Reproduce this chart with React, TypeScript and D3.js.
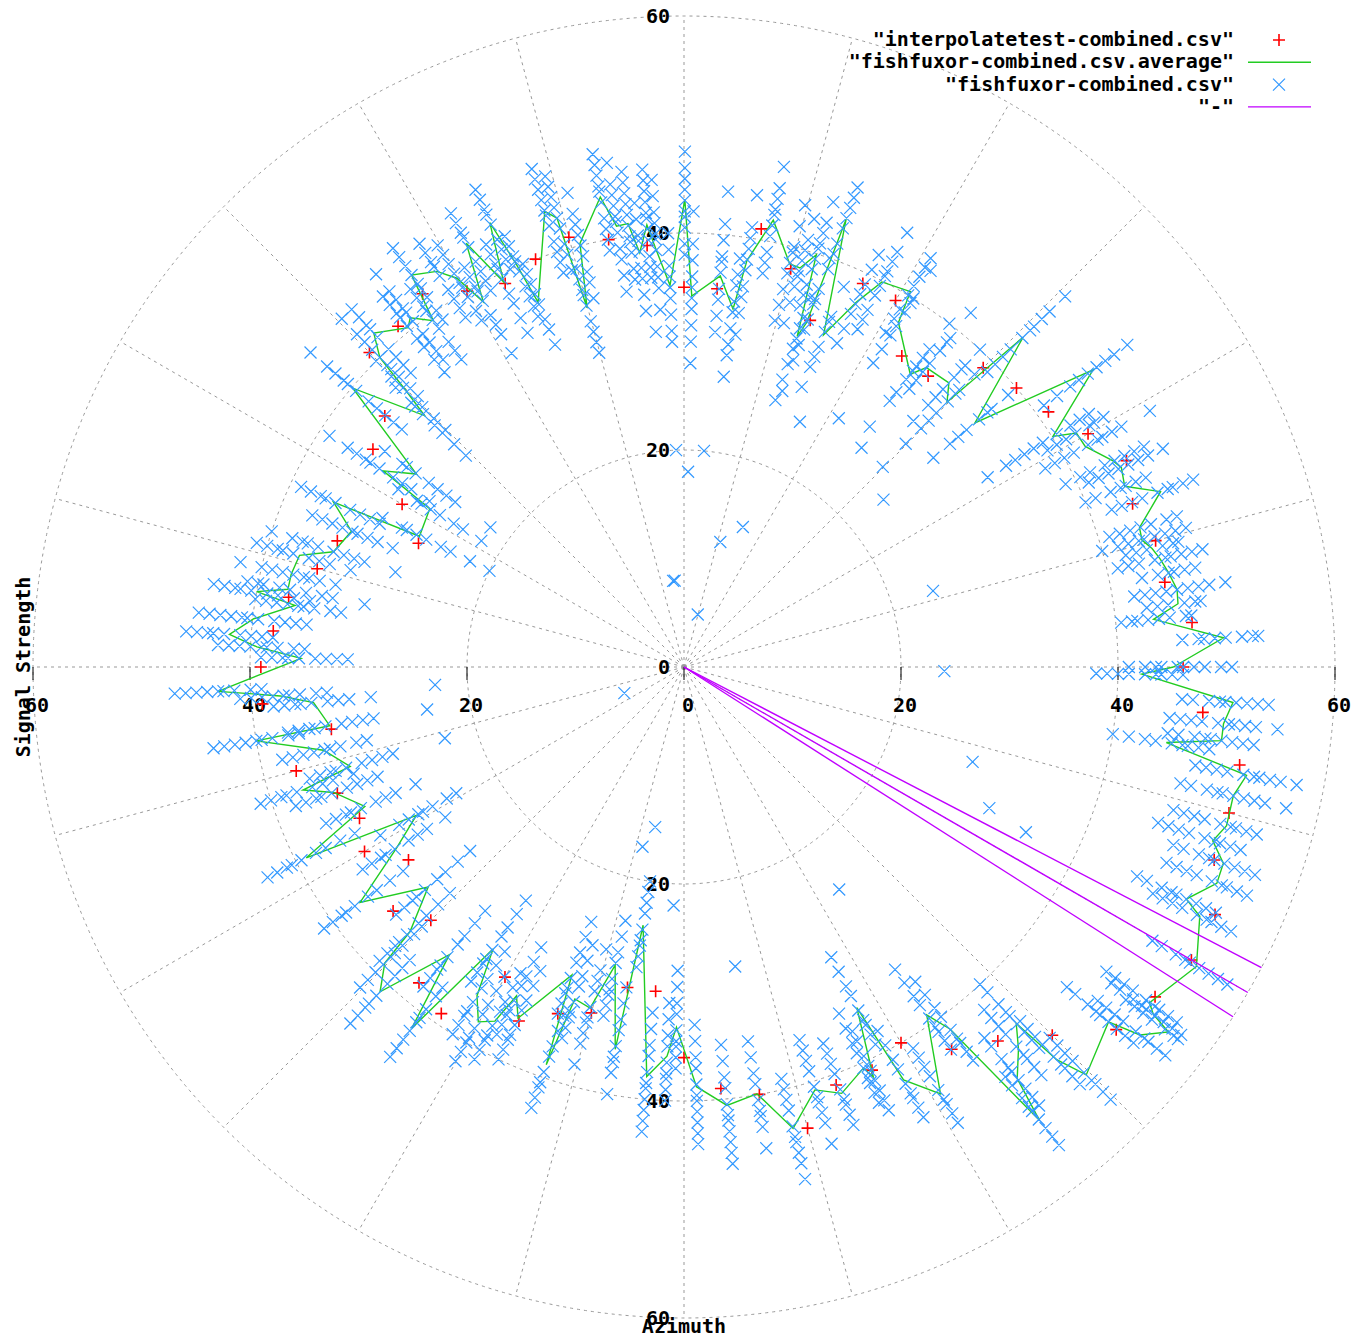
import React from 'react';
import * as d3 from 'd3';

const W = 1364;
const H = 1340;
const cx = 684;
const cy = 667;
const font = '"DejaVu Sans Mono", "Liberation Mono", monospace';

// interpolatetest-combined.csv (azimuth, strength)
const testAzimuth = [
  0, 5, 10, 15, 20, 25, 30, 35, 40, 45, 50, 55, 60, 65, 70, 75, 80, 85, 90, 95,
  100, 105, 110, 115, 120, 125, 130, 135, 140, 145, 150, 155, 160, 165, 170, 175, 180, 185, 190, 195,
  200, 205, 210, 215, 220, 225, 230, 235, 240, 245, 250, 255, 260, 265, 270, 275, 280, 285, 290, 295,
  300, 305, 310, 315, 320, 325, 330, 335, 340, 345, 350, 355,
];
const testStrength = [
  46, 47, 45, 45, 44, 45, 43, 41, 40, 39, 35, 35, 39, 39, 34, 38, 41, 35, 35, 39,
  40, 41, 40, 39, 40, 42, 41, 41, 36, 35, 30, 27, 34, 35, 37, 38, 39, 39, 33, 37,
  34, 33, 34, 31, 35, 33, 38, 39, 33, 36, 34, 33, 30, 30, 36, 39, 40, 44, 41, 41,
  40, 43, 45, 48, 52, 53, 54, 54, 52, 52, 52, 48,
];

// fishfuxor-combined.csv.average
const avgAzimuth = [
  0.0, 3.1, 5.8, 7.3, 8.9, 11.0, 12.8, 14.2, 15.5, 17.0, 20.2, 22.3, 24.5, 25.6, 28.8, 30.8, 32.0, 36.0, 40.0, 44.2,
  45.2, 47.0, 51.0, 52.3, 58.1, 58.9, 62.8, 64.7, 67.2, 70.1, 70.4, 71.1, 72.2, 73.8, 75.3, 78.7, 81.2, 82.2, 84.7, 88.8,
  89.9, 92.1, 93.8, 94.8, 96.1, 97.2, 98.7, 100.1, 103.8, 105.1, 105.8, 107.0, 111.8, 112.6, 113.6, 115.1, 117.2, 118.8, 120.3, 122.0,
  124.8, 125.9, 128.1, 129.1, 132.9, 134.5, 135.2, 135.9, 139.9, 144.2, 146.9, 148.1, 153.7, 154.8, 157.8, 161.8, 163.8, 166.7, 168.9, 170.0,
  171.0, 173.6, 175.9, 177.3, 178.7, 183.0, 184.1, 185.5, 189.4, 189.8, 193.0, 196.6, 197.9, 199.7, 203.6, 206.8, 209.0, 212.2, 216.0, 220.7,
  224.0, 224.7, 226.9, 230.8, 233.0, 235.9, 237.8, 239.9, 241.9, 243.0, 244.7, 250.0, 250.9, 251.8, 254.6, 257.0, 259.8, 261.0, 264.8, 267.5,
  268.8, 271.7, 275.6, 279.7, 283.3, 287.2, 290.3, 294.1, 294.8, 296.9, 298.0, 301.0, 304.9, 306.3, 308.1, 309.0, 311.2, 313.0, 313.5, 314.6,
  320.1, 321.1, 323.0, 323.5, 324.2, 329.7, 334.2, 335.2, 337.9, 340.0, 341.8, 343.7, 346.8, 349.1, 351.1, 352.2, 354.0, 356.3, 359.1,
];
const avgStrength = [
  45.1, 49.8, 43.5, 45.9, 46.0, 45.5, 45.0, 44.5, 43.8, 43.9, 46.8, 43.9, 44.3, 43.9, 42.2, 42.1, 40.1, 46.6, 35.0, 43.6,
  34.4, 35.8, 35.5, 34.1, 37.4, 40.4, 39.9, 37.2, 33.2, 43.9, 33.7, 32.2, 39.9, 38.3, 38.4, 42.0, 37.9, 33.3, 36.2, 34.2,
  43.1, 35.2, 38.5, 40.9, 38.4, 41.2, 41.1, 44.0, 40.2, 34.3, 43.0, 43.9, 36.2, 40.2, 44.7, 39.2, 43.9, 38.4, 41.5, 43.0,
  44.0, 39.4, 40.9, 40.3, 42.0, 40.0, 36.0, 33.3, 39.9, 30.4, 33.1, 27.6, 27.2, 35.7, 33.1, 34.0, 36.9, 37.2, 37.2, 40.0,
  36.3, 39.9, 42.0, 39.4, 35.3, 43.0, 37.3, 34.3, 33.1, 40.0, 34.1, 32.1, 36.9, 34.3, 32.1, 39.0, 28.2, 31.3, 36.9, 31.1,
  35.1, 38.8, 41.0, 34.2, 41.7, 31.4, 35.8, 37.8, 37.0, 34.0, 35.8, 30.2, 38.8, 32.2, 32.6, 28.2, 35.8, 24.1, 37.9, 35.9,
  33.2, 38.7, 40.6, 39.9, 43.7, 40.8, 41.9, 40.5, 41.6, 35.2, 43.1, 45.9, 39.1, 41.4, 53.1, 48.8, 46.8, 44.9, 49.9, 52.8,
  51.0, 54.0, 55.9, 53.8, 52.9, 54.7, 52.8, 51.0, 53.0, 52.9, 51.3, 52.1, 52.0, 52.8, 45.0, 50.0, 50.0, 50.7, 42.2,
];

// fishfuxor-combined.csv: raw readings, one row per azimuth of avgAzimuth
const rawStrength = [
  [41, 42.5, 43.5, 44, 45.5, 46, 47, 48, 49.5, 50.5], [46, 47.5, 48, 49, 50, 51.5, 52.5, 53], [40.5, 41.5, 42, 43, 44, 45, 46.5, 47], [43, 44, 45, 46.5, 47.5, 48], [42, 43, 44, 45, 46, 47, 48, 49, 50.5],
  [43, 44.5, 45.5, 46, 47, 48], [41, 42, 43, 44.5, 45.5, 46, 47, 48, 49], [42, 43, 44, 45.5, 46.5, 47], [40, 41.5, 42.5, 43.5, 44, 45, 46, 47, 48], [24, 41, 42, 43, 44, 45, 46.5, 47.5],
  [42, 43, 44, 45, 46.5, 47.5, 48, 49, 50], [40, 41, 42.5, 43.5, 44, 45, 46], [41, 42, 43, 44, 45, 46, 47, 48.5], [39, 40.5, 41.5, 43, 44, 45, 46, 47], [38, 39, 40, 41, 42.5, 43.5, 44, 45, 46, 49],
  [39, 40, 41, 42, 43.5, 44, 45], [33, 35, 36, 37, 38, 39, 40.5, 42, 43, 44], [41, 42.5, 44, 45, 46, 47, 48, 49, 50.5], [24, 30, 32, 33, 34, 35.5, 36.5, 37, 39], [39, 40, 41, 42, 43.5, 44.5, 45, 46, 47, 49],
  [26, 29, 31, 32, 33, 34.5, 35.5, 36, 38], [31, 33, 34, 35, 36.5, 37.5, 38, 40], [26, 33, 34, 35, 36, 37.5, 38.5, 39, 42], [28, 31, 32, 33.5, 34.5, 35, 36, 37, 40], [27, 33, 34.5, 36, 37, 38.5, 39.5, 40, 43],
  [36, 37.5, 38.5, 40, 41, 42, 43, 44], [35, 36, 37, 38.5, 39.5, 40.5, 41, 42, 43, 45], [25, 33, 34.5, 36, 37, 38, 39, 40.5, 42], [14, 28, 30, 31, 32, 33.5, 34.5, 35, 38], [39, 40.5, 41.5, 43, 44, 45, 46, 47],
  [27, 30, 31.5, 33, 34, 35.5, 36, 37, 40], [26, 28, 29.5, 31, 32, 33, 34, 36], [35, 36, 37, 38.5, 39.5, 40.5, 41, 42, 43, 45], [12, 33, 35, 36.5, 37.5, 38, 39, 40, 41, 43], [5, 33, 34.5, 36, 37.5, 38.5, 39.5, 40, 42, 44],
  [37, 38, 39, 40.5, 41.5, 42.5, 43, 44, 45, 47], [31, 33, 34.5, 35.5, 37, 38, 39, 40, 41, 44], [27, 29, 30, 31.5, 33, 34, 35.5, 36.5, 38], [20, 31, 32.5, 34, 35, 36.5, 37.5, 38, 39.5, 41, 44], [18, 28, 30, 31.5, 33, 34, 35, 36, 37.5, 39, 42],
  [38, 39, 40.5, 41.5, 42, 43, 44, 45, 46, 47.5], [20, 30, 31, 32.5, 34, 35, 36, 37, 38.5, 40], [33, 35, 36, 37, 38.5, 39.5, 40, 41, 42, 43.5, 45], [31, 36, 37, 38, 39.5, 40.5, 41.5, 42, 43, 44, 45, 46], [8, 33, 34.5, 36, 37, 38.5, 39.5, 40, 41.5, 43],
  [8, 36, 37, 38.5, 39.5, 40, 41, 42, 43, 44, 45, 46], [35, 36.5, 38, 39, 40.5, 41.5, 42, 43, 44, 45, 47], [39, 40, 41, 42, 43.5, 44.5, 45, 46, 47, 48], [35, 36.5, 37.5, 39, 40, 41, 42, 43, 45], [30, 31, 32, 33, 34.5, 35.5, 36, 37, 38],
  [38, 39.5, 40.5, 42, 43, 44, 45, 46, 47], [38, 39, 40, 41, 42.5, 43.5, 44, 45, 46, 47, 48], [32, 33.5, 34.5, 36, 37, 38, 39, 40], [35, 36, 37, 38, 39.5, 40.5, 41, 42, 43], [40, 41, 42, 43, 44.5, 45.5, 46, 47, 48],
  [34, 35.5, 37, 38, 39.5, 40.5, 41, 42, 43], [39, 40, 41, 42, 43.5, 44.5, 45, 46, 47], [33, 35, 36, 37, 38.5, 39.5, 40, 41, 42], [37, 38, 39.5, 40.5, 41, 42, 43, 44, 45], [38, 39, 40, 41, 42.5, 43.5, 44, 45, 46],
  [39, 40, 41.5, 42.5, 43, 44, 45, 46, 47], [35, 36, 37, 38.5, 39.5, 40.5, 41, 42, 43], [36, 37, 38, 39, 40.5, 41.5, 42, 43, 44, 46], [35, 36.5, 38, 39, 40.5, 41.5, 42, 43, 44], [37, 38, 39, 40, 41.5, 42.5, 43, 44, 45],
  [35, 36, 37.5, 38.5, 39, 40, 41, 42, 43, 45], [31, 32.5, 34, 35, 36.5, 37.5, 38, 40], [28, 29.5, 31, 32, 33.5, 34.5, 35, 37], [34, 35, 36, 37, 38, 39.5, 40.5, 41, 42, 43, 45], [22, 26, 27, 28, 29, 30.5, 31.5, 32, 34],
  [28, 30, 31, 32, 33.5, 34.5, 35, 36, 37, 39], [22, 24, 25, 26.5, 27.5, 28.5, 29, 31], [20, 22, 24, 25, 26.5, 27.5, 28.5, 29, 31], [31, 32, 33, 34, 35.5, 36.5, 37, 38, 39], [29, 30.5, 31.5, 32.5, 33, 34, 35, 36, 37],
  [28, 31, 32, 33, 34, 35.5, 36.5, 37, 38, 40], [32, 34, 35, 36, 37.5, 38.5, 39, 40, 41], [33, 34.5, 35.5, 36, 37, 38, 39, 40, 42], [30, 33, 34, 35.5, 37, 38, 39.5, 40, 41], [35, 36.5, 38, 39, 40.5, 41.5, 42, 43, 44],
  [32, 33, 34.5, 35.5, 36, 37, 38, 39, 40], [35, 36, 37, 38, 39.5, 40.5, 41, 42, 43, 44, 45], [38, 39, 40, 41, 42.5, 43.5, 44, 45, 46], [35, 36, 37.5, 38.5, 39, 40, 41, 42, 43], [31, 32, 33, 34, 35.5, 36.5, 37, 38, 39],
  [39, 40, 41.5, 42.5, 43, 44, 45, 46, 47], [23, 33, 34, 35.5, 36.5, 37, 38, 39, 40, 41], [29, 31, 32, 33, 34.5, 35.5, 36, 37, 38], [24, 29, 30, 31, 32, 33.5, 34.5, 35, 36, 37], [36, 37, 38.5, 39.5, 40, 41, 42, 43, 44],
  [30, 31, 32.5, 33.5, 34, 35, 36, 37, 38], [23, 28, 29, 30, 31, 32.5, 33.5, 34, 35, 36], [32, 34, 35, 36, 37.5, 38.5, 39, 40, 41], [30, 31, 32, 33, 34.5, 35.5, 36, 37, 38], [6, 27, 29, 30, 31, 32.5, 33.5, 34, 35, 36],
  [34, 35.5, 37, 38, 39.5, 40.5, 41, 42, 43], [24, 25, 26.5, 27.5, 28, 29, 30, 32], [26, 28, 29, 30, 31.5, 32.5, 33, 34, 35], [32, 33.5, 35, 36, 37.5, 38.5, 39, 40, 41], [26, 27.5, 29, 30, 31.5, 32.5, 33, 34, 35],
  [30, 31.5, 33, 34, 35.5, 36.5, 37, 38, 39], [34, 35, 36.5, 37.5, 38, 39, 40, 41, 42], [37, 38, 39, 40, 41.5, 42.5, 43, 44, 45], [29, 30.5, 32, 33, 34.5, 35.5, 36, 37, 38], [37, 38, 39.5, 40.5, 41, 42, 43, 44, 45],
  [26, 27.5, 29, 30, 31.5, 32.5, 33, 34, 35], [31, 32.5, 34, 35, 36.5, 37.5, 38, 39, 40], [33, 34.5, 36, 37, 38.5, 39.5, 40, 41, 42], [32, 33.5, 35, 36, 37.5, 38.5, 39, 40, 41], [29, 30.5, 32, 33, 34.5, 35.5, 36, 37, 38],
  [31, 32.5, 34, 35, 36.5, 37.5, 38, 39, 40], [25, 26.5, 28, 29, 30.5, 31.5, 32, 33, 34], [34, 35.5, 37, 38, 39.5, 40.5, 41, 42, 43], [27, 28.5, 30, 31, 32.5, 33.5, 34, 35, 36], [27, 29, 30, 31, 32.5, 33.5, 34, 35, 36, 38],
  [17, 24, 25.5, 27, 28, 29.5, 30.5, 31, 32, 33], [15, 30, 31.5, 33, 34, 35.5, 36.5, 37, 38, 40], [20, 21, 22, 23, 24.5, 25.5, 26, 27, 28], [32, 33.5, 35, 36, 37.5, 38.5, 39, 40, 41, 42, 43], [22, 31, 32.5, 34, 35, 36.5, 37.5, 38, 39, 40],
  [28, 29.5, 31, 32, 33.5, 34.5, 35, 36, 37], [33, 34.5, 36, 37, 38.5, 39.5, 40, 41, 42, 43, 44], [35, 36.5, 38, 39, 40.5, 41.5, 42, 43, 44, 45, 46], [28, 35, 36.5, 38, 39, 40.5, 41.5, 42, 43, 45], [39, 40, 41, 42, 43.5, 44.5, 45, 46, 47, 48.5],
  [36, 37, 38, 39, 40.5, 41.5, 42, 43, 44, 46], [37, 38, 39, 40, 41.5, 42.5, 43, 44, 45], [35, 36.5, 38, 39, 40.5, 41.5, 42, 43, 44], [37, 38, 39.5, 40.5, 41, 42, 43, 44, 45], [30, 31.5, 33, 34, 35.5, 36.5, 37, 38, 39],
  [38, 39.5, 41, 42, 43.5, 44.5, 45, 46, 47], [41, 42, 43, 44, 45.5, 46.5, 47, 48, 49], [25, 34, 35.5, 37, 38, 39.5, 40.5, 41, 42, 43], [36, 37.5, 39, 40, 41.5, 42.5, 43, 44, 45], [48, 49, 50.5, 51.5, 52, 53, 54, 55, 56],
  [44, 45, 46.5, 47.5, 48, 49, 50, 51, 52], [42, 43, 44, 45, 46.5, 47.5, 48, 49, 50], [40, 41, 42.5, 43.5, 44, 45, 46, 47, 48], [45, 46, 47, 48, 49.5, 50.5, 51, 52, 53], [48, 49, 50, 51, 52.5, 53.5, 54, 55, 56],
  [46, 47, 48.5, 49.5, 50, 51, 52, 53, 54], [49, 50, 51, 52, 53.5, 54.5, 55, 56, 57], [51, 52, 53, 54, 55.5, 56.5, 57], [49, 50, 51.5, 52.5, 53, 54, 55, 56, 57], [48, 49, 50, 51, 52.5, 53.5, 54, 55, 56],
  [50, 51, 52.5, 53.5, 54, 55, 56, 57, 58], [35, 48, 49, 50, 51, 52.5, 53.5, 54, 55, 56], [31, 46, 47, 48.5, 49.5, 50, 51, 52, 53, 54], [48, 49, 50, 51, 52.5, 53.5, 54, 55, 56], [48, 49, 50.5, 51.5, 52, 53, 54, 55, 56],
  [28, 46, 47, 48, 49, 50.5, 51.5, 52, 53, 54], [47, 48, 49, 50, 51.5, 52.5, 53, 54, 55], [47, 48, 49.5, 50.5, 51, 52, 53, 54, 55, 57], [48, 49, 50, 51, 52.5, 53.5, 54, 55, 56, 57.5], [40, 41.5, 43, 44, 45.5, 46.5, 47, 48, 49],
  [45, 46, 47.5, 48.5, 49, 50, 51, 52, 53], [45, 46, 47, 48, 49.5, 50.5, 51, 52, 53, 55], [46, 47, 48.5, 49.5, 50, 51, 52, 53, 54], [24, 38, 39, 40, 41, 42.5, 43.5, 44, 45, 46],
];

// "-" : three bearing lines from the origin
const bearingAzimuth = [327.5, 330, 332.5];
const bearingLength = [60, 60, 60];

const gridRings = [20, 40, 60];
const spokeStep = 15;
const axisTicks = [-60, -40, -20, 0, 20, 40, 60];

const legendNames = [
  '"interpolatetest-combined.csv"',
  '"fishfuxor-combined.csv.average"',
  '"fishfuxor-combined.csv"',
  '"-"',
];

const RED = '#ff0000';
const GREEN = '#22cc22';
const BLUE = '#3399ff';
const MAGENTA = '#c000ff';
const GRID = '#999999';

const App = () => {
  const r = d3.scaleLinear().domain([0, 60]).range([0, 651]);
  const ang = (az: number) => ((90 - az) * Math.PI) / 180;
  const pt = (az: number, v: number) => {
    const [x, y] = d3.pointRadial(ang(az), r(v));
    return [cx + x, cy + y];
  };

  const avgLine = d3
    .lineRadial<number>()
    .angle((i) => ang(avgAzimuth[i]))
    .radius((i) => r(avgStrength[i]))
    .curve(d3.curveLinearClosed);

  const cross = (x: number, y: number, s: number) =>
    `M${x - s},${y - s}L${x + s},${y + s}M${x - s},${y + s}L${x + s},${y - s}`;
  const plus = (x: number, y: number, s: number) =>
    `M${x - s},${y}L${x + s},${y}M${x},${y - s}L${x},${y + s}`;

  const bluePath = rawStrength
    .flatMap((row, i) =>
      row.map((v) => {
        const [x, y] = pt(avgAzimuth[i], v);
        return cross(x, y, 6);
      })
    )
    .join('');

  const redPath = testAzimuth
    .map((az, i) => {
      const [x, y] = pt(az, testStrength[i]);
      return plus(x, y, 6);
    })
    .join('');

  const spokes = d3.range(0, 360, spokeStep);

  return (
    <svg
      width={W}
      height={H}
      style={{ position: 'absolute', left: 0, top: 0, background: '#fff' }}
      fontFamily={font}
      fontWeight="bold"
    >
      {/* polar grid */}
      <g stroke={GRID} strokeWidth={1} strokeDasharray="3,4" fill="none">
        {gridRings.map((g) => (
          <circle key={g} cx={cx} cy={cy} r={r(g)} />
        ))}
        {spokes.map((a) => {
          const [x, y] = pt(a, 60);
          return <line key={a} x1={cx} y1={cy} x2={x} y2={y} />;
        })}
      </g>

      {/* x ticks and labels */}
      <g fontSize={20} fill="#000" textAnchor="middle">
        {axisTicks.map((t) => (
          <g key={'x' + t}>
            <line x1={cx + r(t)} x2={cx + r(t)} y1={cy} y2={cy + 13} stroke="#000" strokeWidth={1} />
            <text x={cx + r(t) + 4} y={cy + 45}>
              {Math.abs(t)}
            </text>
          </g>
        ))}
      </g>
      <g fontSize={20} fill="#000" textAnchor="end">
        {axisTicks.map((t) => (
          <text key={'y' + t} x={cx - 14} y={cy - r(t) + 7}>
            {Math.abs(t)}
          </text>
        ))}
      </g>

      {/* data */}
      <path d={redPath} stroke={RED} strokeWidth={1.6} fill="none" />
      <path d={avgLine(d3.range(avgAzimuth.length)) || ''} transform={`translate(${cx},${cy})`} stroke={GREEN} strokeWidth={1.4} fill="none" />
      <path d={bluePath} stroke={BLUE} strokeWidth={1.2} fill="none" />
      {bearingAzimuth.map((az, i) => {
        const [x, y] = pt(az, bearingLength[i]);
        return <line key={az} x1={cx} y1={cy} x2={x} y2={y} stroke={MAGENTA} strokeWidth={1.4} />;
      })}

      {/* axis titles */}
      <text x={cx} y={1333} fontSize={20} textAnchor="middle">
        Azimuth
      </text>
      <text transform={`translate(30,${cy}) rotate(-90)`} fontSize={20} textAnchor="middle">
        Signal Strength
      </text>

      {/* legend */}
      <g fontSize={20} textAnchor="end">
        {legendNames.map((name, i) => {
          const y = 40 + i * 22.3;
          return (
            <g key={name}>
              <text x={1234} y={y + 6}>
                {name}
              </text>
              {i === 0 && <path d={plus(1279, y, 6)} stroke={RED} strokeWidth={1.6} />}
              {i === 1 && <line x1={1248} x2={1311} y1={y} y2={y} stroke={GREEN} strokeWidth={1.4} />}
              {i === 2 && <path d={cross(1279, y, 6)} stroke={BLUE} strokeWidth={1.2} />}
              {i === 3 && <line x1={1248} x2={1311} y1={y} y2={y} stroke={MAGENTA} strokeWidth={1.4} />}
            </g>
          );
        })}
      </g>
    </svg>
  );
};

export default App;
